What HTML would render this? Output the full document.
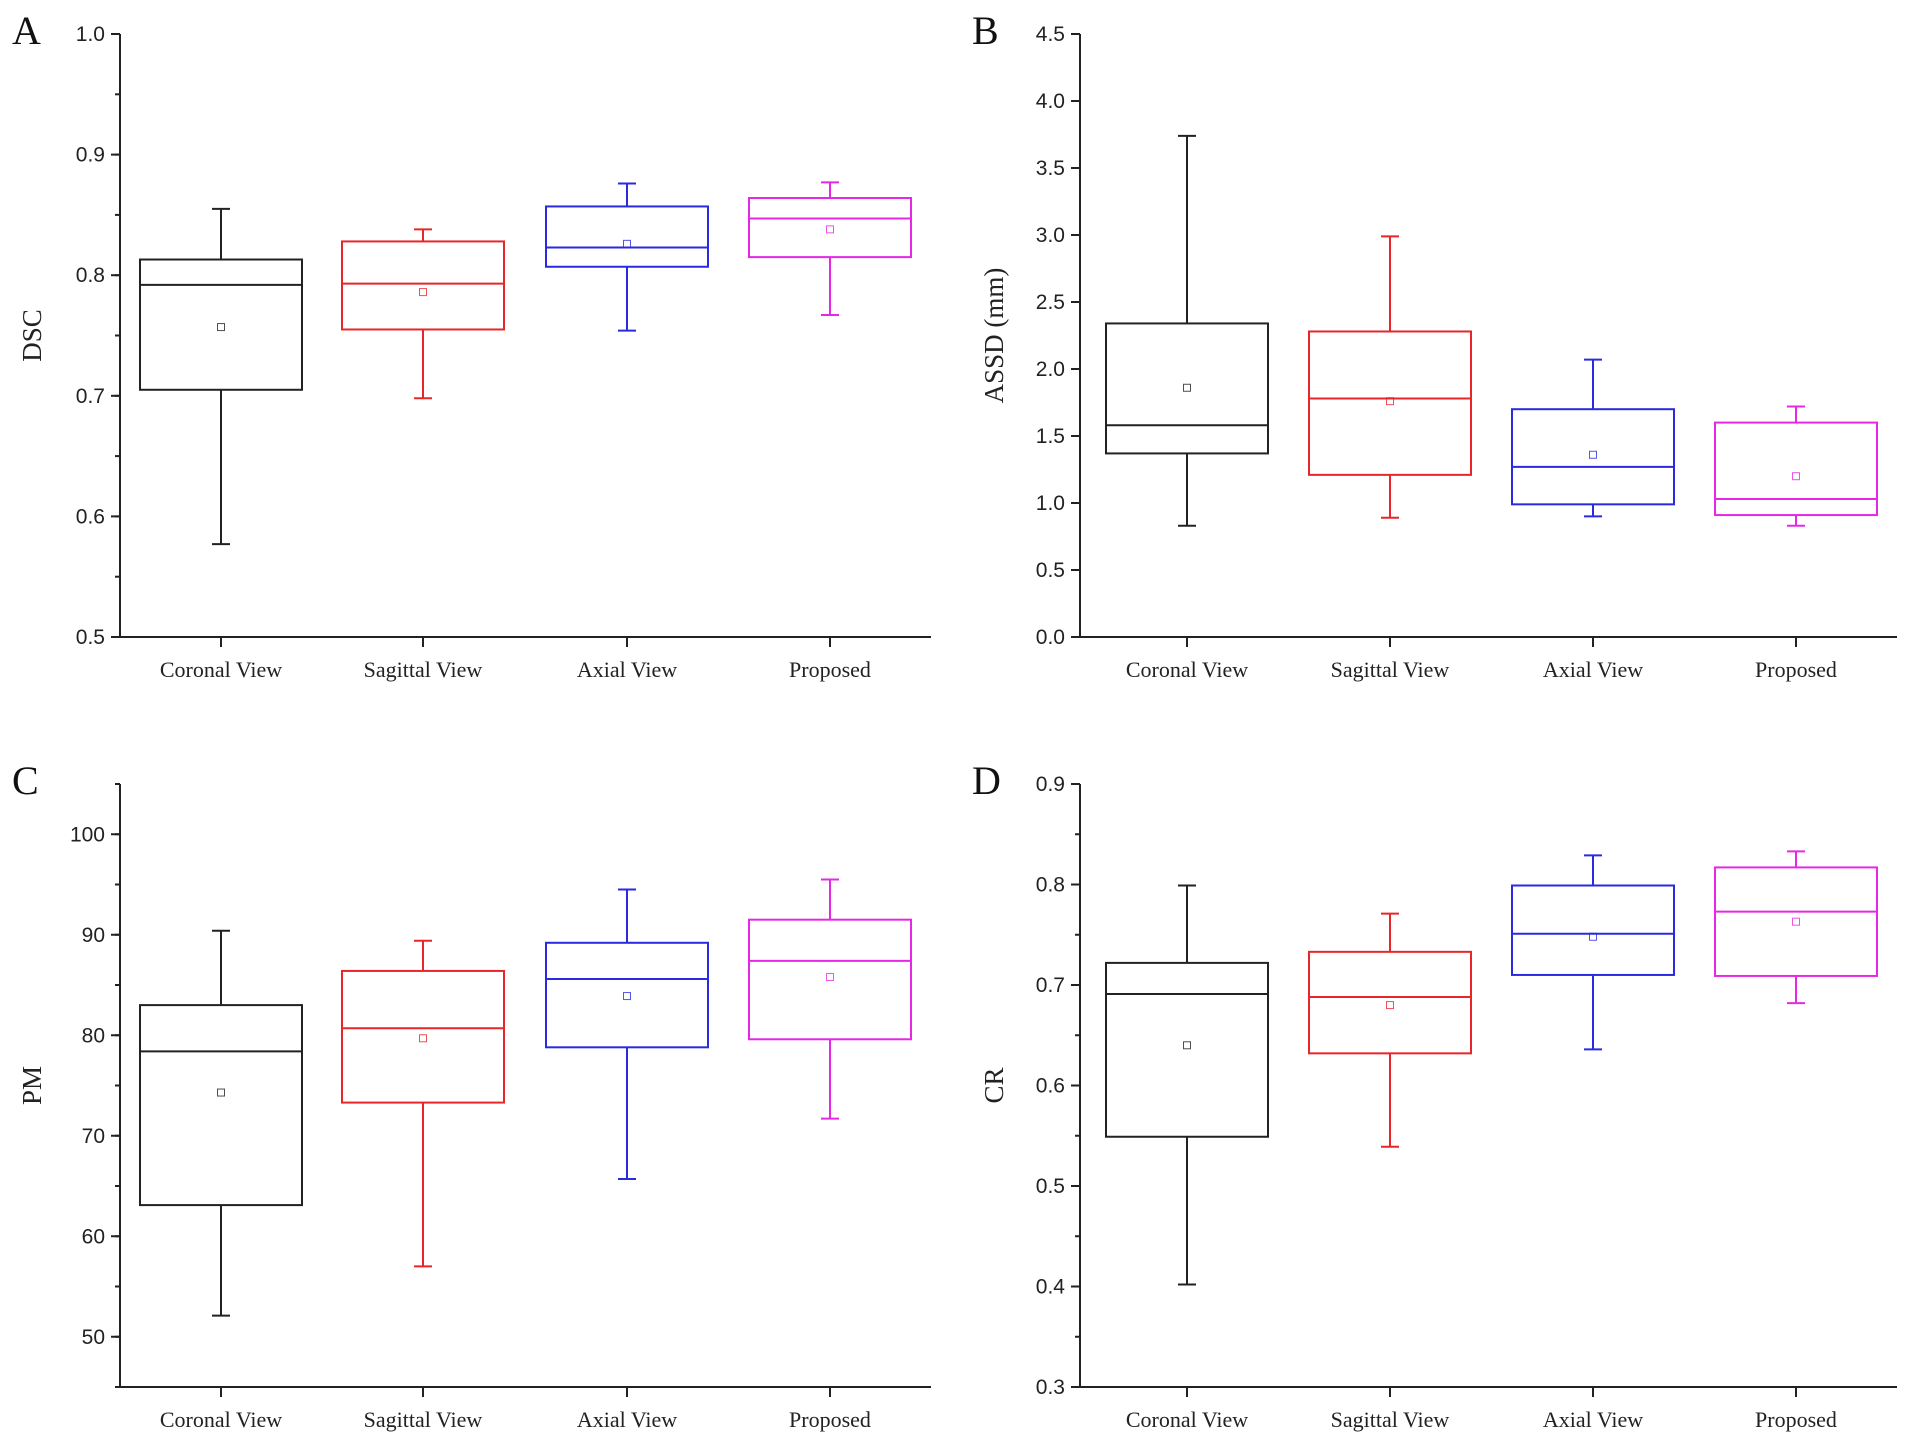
<!DOCTYPE html>
<html><head><meta charset="utf-8"><style>
html,body{margin:0;padding:0;background:#fff;}
svg{display:block;}
</style></head>
<body>
<svg id="chart" width="1913" height="1449" viewBox="0 0 1913 1449" xmlns="http://www.w3.org/2000/svg"></svg>
<script>
const categories = ["Coronal View","Sagittal View","Axial View","Proposed"];
const colors = ["#222222","#e8262a","#2a2ae0","#e628e6"];
// [low whisker, q1, median, q3, high whisker]
const dscBoxes = [[0.577,0.705,0.792,0.813,0.855],[0.698,0.755,0.793,0.828,0.838],[0.754,0.807,0.823,0.857,0.876],[0.767,0.815,0.847,0.864,0.877]];
const dscMeans = [0.757,0.786,0.826,0.838];
const dscTicks = [0.5,0.6,0.7,0.8,0.9,1.0];
const assdBoxes = [[0.83,1.37,1.58,2.34,3.74],[0.89,1.21,1.78,2.28,2.99],[0.90,0.99,1.27,1.70,2.07],[0.83,0.91,1.03,1.60,1.72]];
const assdMeans = [1.86,1.76,1.36,1.20];
const assdTicks = [0,0.5,1,1.5,2,2.5,3,3.5,4,4.5];
const pmBoxes = [[52.1,63.1,78.4,83.0,90.4],[57.0,73.3,80.7,86.4,89.4],[65.7,78.8,85.6,89.2,94.5],[71.7,79.6,87.4,91.5,95.5]];
const pmMeans = [74.3,79.7,83.9,85.8];
const pmTicks = [50,60,70,80,90,100];
const crBoxes = [[0.402,0.549,0.691,0.722,0.799],[0.539,0.632,0.688,0.733,0.771],[0.636,0.710,0.751,0.799,0.829],[0.682,0.709,0.773,0.817,0.833]];
const crMeans = [0.640,0.680,0.748,0.763];
const crTicks = [0.3,0.4,0.5,0.6,0.7,0.8,0.9];

const svg = document.getElementById('chart');
const NS = 'http://www.w3.org/2000/svg';
function mk(tag, attrs, parent){const e=document.createElementNS(NS,tag);for(const k in attrs)e.setAttribute(k,attrs[k]);(parent||svg).appendChild(e);return e;}

const panels = [
 {id:'a',letter:'A',title:'DSC',boxes:dscBoxes,means:dscMeans,ticks:dscTicks,minor:0.05,dec:1,ax:120,x1:931,top:34,bot:637,min:0.5,max:1.0,cats:[221,423,627,830],lx:28},
 {id:'b',letter:'B',title:'ASSD (mm)',boxes:assdBoxes,means:assdMeans,ticks:assdTicks,minor:null,dec:1,ax:1080,x1:1897,top:34,bot:637,min:0,max:4.5,cats:[1187,1390,1593,1796],lx:990},
 {id:'c',letter:'C',title:'PM',boxes:pmBoxes,means:pmMeans,ticks:pmTicks,minor:5,dec:0,ax:120,x1:931,top:784,bot:1387,min:45,max:105,cats:[221,423,627,830],lx:28},
 {id:'d',letter:'D',title:'CR',boxes:crBoxes,means:crMeans,ticks:crTicks,minor:0.05,dec:1,ax:1080,x1:1897,top:784,bot:1387,min:0.3,max:0.9,cats:[1187,1390,1593,1796],lx:990}
];

panels.forEach(p=>{
  const g = mk('g',{});
  
  
  const y = v => p.bot - (v-p.min)/(p.max-p.min)*(p.bot-p.top);
  const L = mk('text',{x:p.ax-108,y:p.top+10,'font-family':'"Liberation Serif",serif','font-size':40,fill:'#111'},g);
  L.textContent=p.letter;
  
  
  const ya = mk('line',{x1:p.ax,y1:p.top,x2:p.ax,y2:p.bot,stroke:'#222','stroke-width':2},g);
  
  
  const xa = mk('line',{x1:p.ax-1,y1:p.bot,x2:p.x1,y2:p.bot,stroke:'#222','stroke-width':2},g);
  
  
  if(p.minor){
    for(let v=p.min; v<=p.max+1e-9; v+=p.minor){
      mk('line',{x1:p.ax-5,y1:y(v),x2:p.ax,y2:y(v),stroke:'#222','stroke-width':2},g);
    }
  }
  p.ticks.forEach(t=>{
    mk('line',{x1:p.ax-9,y1:y(t),x2:p.ax,y2:y(t),stroke:'#222','stroke-width':2},g);
    const tl = mk('text',{x:p.ax-15,y:y(t)+7,'text-anchor':'end','font-family':'"Liberation Sans",sans-serif','font-size':21,fill:'#222'},g);
    tl.textContent = t.toFixed(p.dec);
    
    
  });
  const yt = mk('text',{x:0,y:0,'text-anchor':'middle','font-family':'"Liberation Serif",serif','font-size':27,fill:'#222',transform:`translate(${p.lx+13},${(p.top+p.bot)/2}) rotate(-90)`},g);
  yt.textContent=p.title;
  
  
  categories.forEach((c,i)=>{
    const cx=p.cats[i];
    mk('line',{x1:cx,y1:p.bot,x2:cx,y2:p.bot+10,stroke:'#222','stroke-width':2},g);
    const xl = mk('text',{x:cx,y:p.bot+40,'text-anchor':'middle','font-family':'"Liberation Serif",serif','font-size':22,fill:'#222'},g);
    xl.textContent=c;
    
    
    const b=p.boxes[i], col=colors[i], hw=81;
    const bg = mk('g',{stroke:col,'stroke-width':2,fill:'none'},g);
    
    
    mk('line',{x1:cx,y1:y(b[0]),x2:cx,y2:y(b[1])},bg);
    mk('line',{x1:cx,y1:y(b[3]),x2:cx,y2:y(b[4])},bg);
    mk('line',{x1:cx-9,y1:y(b[0]),x2:cx+9,y2:y(b[0])},bg);
    mk('line',{x1:cx-9,y1:y(b[4]),x2:cx+9,y2:y(b[4])},bg);
    mk('rect',{x:cx-hw,y:y(b[3]),width:2*hw,height:y(b[1])-y(b[3])},bg);
    mk('line',{x1:cx-hw,y1:y(b[2]),x2:cx+hw,y2:y(b[2])},bg);
    const m = mk('rect',{x:cx-3.5,y:y(p.means[i])-3.5,width:7,height:7,stroke:col,'stroke-width':1,fill:'none',opacity:0.8},g);
    
    
  });
});
</script>
</body></html>
